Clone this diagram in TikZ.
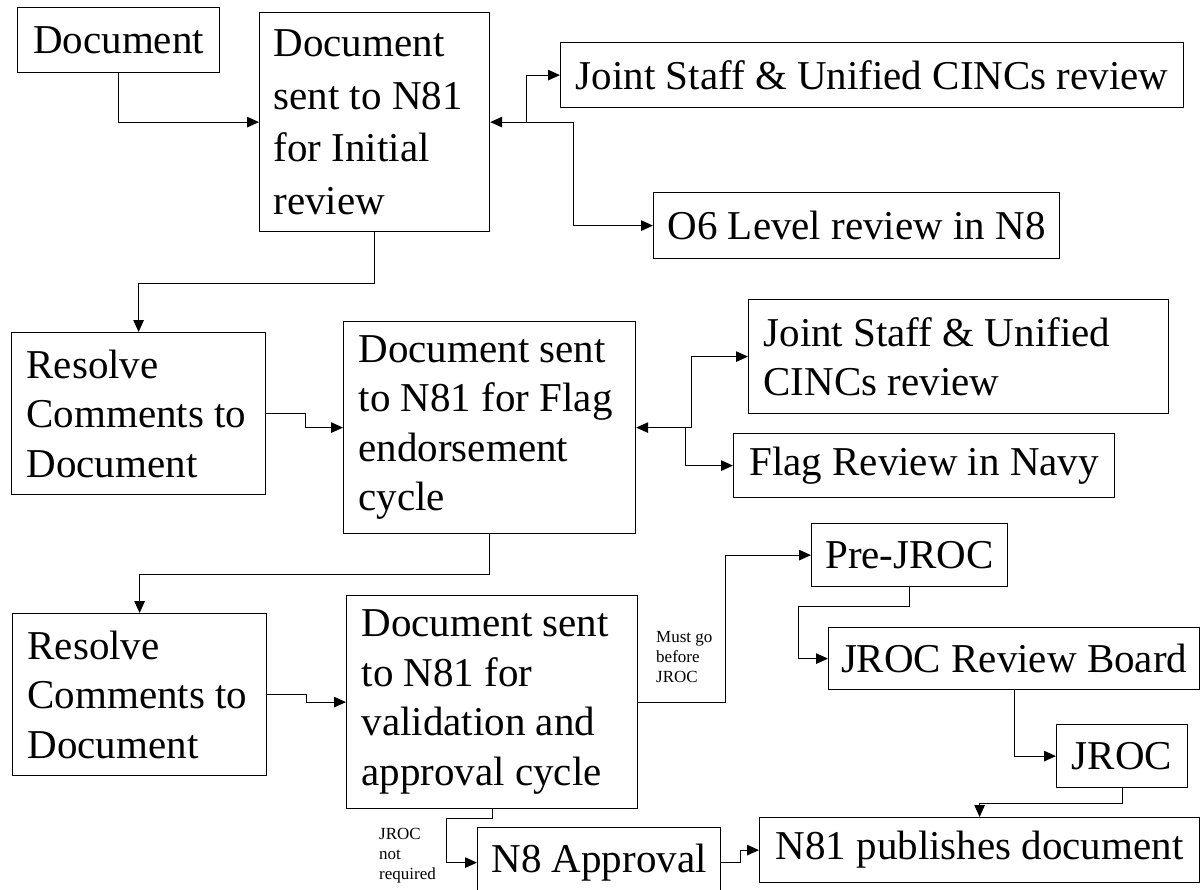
\documentclass[tikz,border=0pt]{standalone}
\usepackage{fontspec}
\setmainfont{Liberation Serif}
\usetikzlibrary{arrows.meta}
\newcommand{\lbtext}[2]{\hspace*{14pt}\parbox[c]{#1}{\raggedright #2}}
\begin{document}
\begin{tikzpicture}[x=1pt,y=-1pt,
  box/.style={draw, line width=1.2pt, inner ysep=0pt, inner xsep=0pt, anchor=north west,
    font=\fontsize{41}{49.5}\selectfont},
  arr/.style={line width=1.2pt, -{Triangle[length=12pt,width=10.5pt]}},
  small/.style={font=\fontsize{17}{20}\selectfont, align=flush left, inner sep=0pt, anchor=west}]
\fill[white] (0,0) rectangle (1202,889);
\useasboundingbox (0,0) rectangle (1202,889);

% nodes
\node[box, minimum width=202, minimum height=65] (doc) at (17,7) {Document};
\node[box, minimum width=230, minimum height=219, font=\fontsize{41}{52.5}\selectfont] (init) at (259,12)
  {\hspace*{-1pt}\lbtext{215pt}{Document\\sent to N81\\for Initial\\review}};
\node[box, minimum width=623, minimum height=65] (js1) at (560,42) {Joint Staff \& Unified CINCs review};
\node[box, minimum width=406, minimum height=66] (o6) at (653,192) {O6 Level review in N8};

\node[box, minimum width=254, minimum height=162] (res1) at (11,332)
  {\lbtext{238pt}{Resolve\\Comments to\\Document}};
\node[box, minimum width=292, minimum height=212] (flag) at (343,321)
  {\lbtext{276pt}{Document sent\\to N81 for Flag\\endorsement\\cycle}};
\node[box, minimum width=420, minimum height=114] (js2) at (748,299)
  {\lbtext{404pt}{Joint Staff \& Unified\\CINCs review}};
\node[box, minimum width=381, minimum height=64] (flagrev) at (733,433) {Flag Review in Navy};
\node[box, minimum width=196, minimum height=63] (prej) at (811,523) {Pre-JROC};

\node[box, minimum width=254, minimum height=162] (res2) at (12,613)
  {\lbtext{238pt}{Resolve\\Comments to\\Document}};
\node[box, minimum width=291, minimum height=213] (val) at (346,595)
  {\lbtext{275pt}{Document sent\\to N81 for\\validation and\\approval cycle}};
\node[box, minimum width=371, minimum height=62] (jrb) at (828,627) {JROC Review Board};
\node[box, minimum width=131, minimum height=63] (jroc) at (1056,724) {JROC};
\node[box, minimum width=243, minimum height=70] (n8) at (477,827) {N8 Approval};
\node[box, minimum width=440, minimum height=65] (pub) at (759,817) {N81 publishes document};

\node[small] (lmust) at (656,657) {Must go\\before\\JROC};
\node[small] (lnot) at (379,856) {JROC\\not\\required};

% connectors
\draw[arr] (doc.south) |- (init.west);

\coordinate (j1) at ([xshift=36pt]init.east);
\draw[arr] (j1) -- (init.east);
\draw[arr] (j1) |- (js1.west);
\draw[arr] (j1) -- ++(47,0) |- (o6.west);

\draw[arr] (init.south) -- ++(0,51) -| (res1.north);
\draw[arr] (res1.east) -- ++(39,0) |- (flag.west);

\coordinate (j2) at ([xshift=55pt]flag.east);
\coordinate (j3) at ([xshift=49pt]flag.east);
\draw[arr] (j2) -- (flag.east);
\draw[arr] (j2) |- (js2.west);
\draw[arr] (j3) |- (flagrev.west);

\draw[arr] (flag.south) -- ++(0,40) -| (res2.north);
\draw[arr] (res2.east) -- ++(39,0) |- (val.west);

\draw[arr] (val.east) -- ++(87,0) |- (prej.west);
\draw[arr] (val.south) -- ++(0,9) -- ++(-45.5,0) |- (n8.west);
\draw[arr] (n8.east) -- ++(19,0) |- (pub.west);

\draw[arr] (prej.south) -- ++(0,19) -- ++(-111,0) |- (jrb.west);
\draw[arr] (jrb.south) |- (jroc.west);
\draw[arr] (jroc.south) -- ++(0,15) -| (pub.north);
\end{tikzpicture}
\end{document}
